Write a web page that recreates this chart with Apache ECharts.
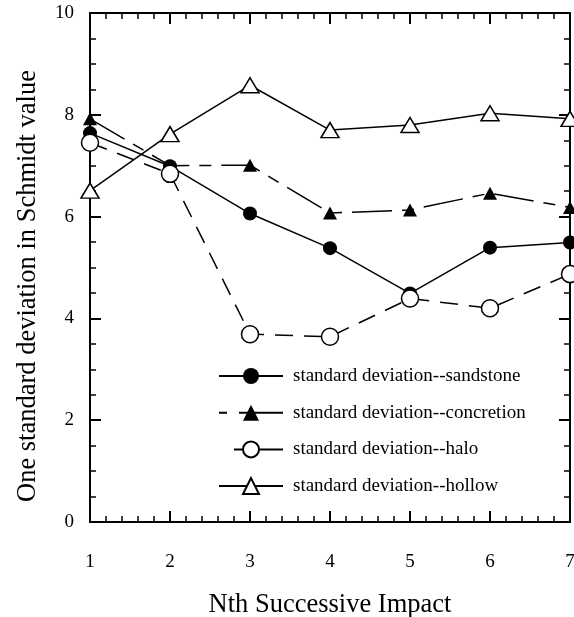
<!DOCTYPE html>
<html>
<head>
<meta charset="utf-8">
<script src="https://cdn.jsdelivr.net/npm/echarts@6/dist/echarts.min.js"></script>
<style>html,body{margin:0;padding:0;background:#fff}#c{width:574px;height:617px}</style>
</head>
<body>
<div id="c"></div>
<script>
var impacts = [1, 2, 3, 4, 5, 6, 7];
var sandstone = [7.64, 6.99, 6.06, 5.38, 4.49, 5.39, 5.49];
var concretion = [7.92, 7.0, 7.01, 6.07, 6.13, 6.46, 6.18];
var halo = [7.45, 6.84, 3.69, 3.64, 4.39, 4.2, 4.87];
var hollow = [6.51, 7.62, 8.58, 7.7, 7.8, 8.03, 7.92];
var seriesNames = ['standard deviation--sandstone', 'standard deviation--concretion', 'standard deviation--halo', 'standard deviation--hollow'];
var xTitle = 'Nth Successive Impact';
var yTitle = 'One standard deviation in Schmidt value';

function pairs(vals) { return impacts.map(function (x, i) { return [x, vals[i]]; }); }
var FONT = 'Liberation Serif';
var black = '#000';

function axisCommon(extra) {
  var base = {
    type: 'value',
    axisLine: { show: true, onZero: false, lineStyle: { color: black, width: 2 } },
    axisTick: { show: true, inside: true, length: 11, lineStyle: { color: black, width: 2 } },
    splitLine: { show: false },
    minorSplitLine: { show: false }
  };
  for (var k in extra) base[k] = extra[k];
  return base;
}

var chart = echarts.init(document.getElementById('c'), null, { renderer: 'canvas' });
chart.setOption({
  animation: false,
  backgroundColor: '#fff',
  grid: { left: 90, right: 4, top: 13, bottom: 95, containLabel: false, outerBoundsMode: 'none' },
  legend: {
    orient: 'vertical',
    left: 218,
    top: 365.5,
    padding: 0,
    itemWidth: 64,
    itemHeight: 20,
    itemGap: 15.7,
    selectedMode: false,
    data: [
      { name: seriesNames[0] },
      { name: seriesNames[1], lineStyle: { type: [8, 12, 60] } },
      { name: seriesNames[2], lineStyle: { type: [0, 15, 60] } },
      { name: seriesNames[3] }
    ],
    textStyle: { fontFamily: FONT, fontSize: 19, color: black, lineHeight: 21, padding: [0, 0, 0, 5] }
  },
  xAxis: [
    axisCommon({
      position: 'bottom', min: 1, max: 7, interval: 1,
      minorTick: { show: true, splitNumber: 5, length: 6, lineStyle: { color: black, width: 1.5 } },
      axisLabel: { margin: 31, fontFamily: FONT, fontSize: 19, color: black },
      name: xTitle, nameLocation: 'middle', nameGap: 70,
      nameTextStyle: { fontFamily: FONT, fontSize: 26.5, color: black }
    }),
    axisCommon({
      position: 'top', min: 1, max: 7, interval: 1,
      minorTick: { show: true, splitNumber: 5, length: 6, lineStyle: { color: black, width: 1.5 } },
      axisLabel: { show: false }
    })
  ],
  yAxis: [
    axisCommon({
      position: 'left', min: 0, max: 10, interval: 2,
      minorTick: { show: true, splitNumber: 4, length: 6, lineStyle: { color: black, width: 1.5 } },
      axisLabel: { margin: 16, fontFamily: FONT, fontSize: 19, color: black, padding: [10, 0, 0, 0] },
      name: yTitle, nameLocation: 'middle', nameGap: 48, nameRotate: 90,
      nameTextStyle: { fontFamily: FONT, fontSize: 26.5, color: black, padding: [0, 37, 0, 0] }
    }),
    axisCommon({
      position: 'right', min: 0, max: 10, interval: 2,
      minorTick: { show: true, splitNumber: 4, length: 6, lineStyle: { color: black, width: 1.5 } },
      axisLabel: { show: false }
    })
  ],
  series: [
    {
      name: seriesNames[0], type: 'line', data: pairs(sandstone), clip: false,
      symbol: 'circle', symbolSize: 14,
      lineStyle: { color: black, width: 1.5, type: 'solid' },
      itemStyle: { color: black, borderColor: black, borderWidth: 0 },
      emphasis: { disabled: true }, z: 3
    },
    {
      name: seriesNames[1], type: 'line', data: pairs(concretion), clip: false,
      symbol: 'triangle', symbolSize: [14, 13],
      lineStyle: { color: black, width: 1.5, type: [40, 10, 12, 10] },
      itemStyle: { color: black, borderColor: black, borderWidth: 0 },
      emphasis: { disabled: true }, z: 3
    },
    {
      name: seriesNames[2], type: 'line', data: pairs(halo), clip: false,
      symbol: 'circle', symbolSize: 17,
      lineStyle: { color: black, width: 1.5, type: [18, 11] },
      itemStyle: { color: '#fff', borderColor: black, borderWidth: 1.5 },
      emphasis: { disabled: true }, z: 4
    },
    {
      name: seriesNames[3], type: 'line', data: pairs(hollow), clip: false,
      symbol: 'triangle', symbolSize: [18, 15],
      lineStyle: { color: black, width: 1.5, type: 'solid' },
      itemStyle: { color: '#fff', borderColor: black, borderWidth: 1.5 },
      emphasis: { disabled: true }, z: 4
    }
  ]
});
</script>
</body>
</html>
